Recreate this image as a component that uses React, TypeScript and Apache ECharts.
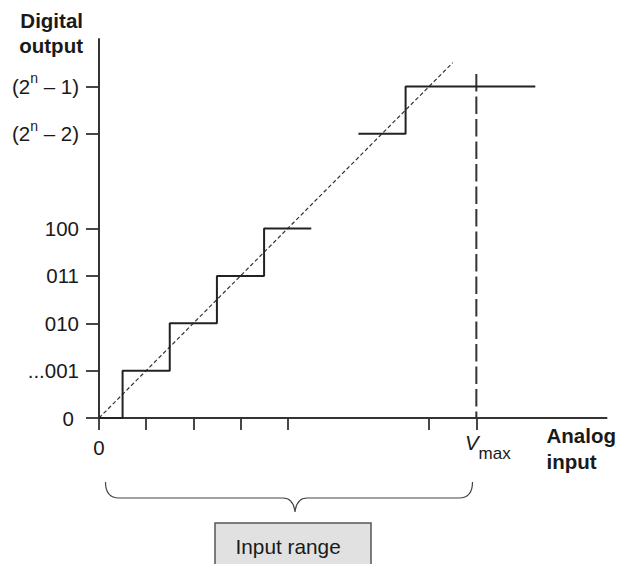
import React, { useEffect, useRef } from "react";
import * as echarts from "echarts";

// ---- data ----
const xTickValues = [0, 1, 2, 3, 4, 7, 8];
const xLabelValues = [0, 8];
const yTickValues = [0, 1, 2, 3, 4, 6, 7];
const yTickLabels: Record<number, string> = {
  0: "{z|0}",
  1: "...001",
  2: "010",
  3: "011",
  4: "100",
  6: "(2{sup|n} – 2)",
  7: "(2{sup|n} – 1)",
};
const lowerStairs = [[0, 0], [0.5, 1], [1.5, 2], [2.5, 3], [3.5, 4], [4.5, 4]];
const upperStairs = [[5.5, 6], [6.5, 7], [9.25, 7]];
const idealLine = [[0, 0], [7.5, 7.5]];
const vmaxLine = [[8, 7.26], [8, 0]];

const FONT = "'Liberation Sans', Arial, Helvetica, sans-serif";
const TEXT = "#1a1a1a";
const LINE = "#333333";

const braceD =
  "M105.5,482 C105.5,492 109,498 119,498 L283,498 C290,498 294,503 295,512 C296,503 300,498 307,498 L459,498 C469,498 472.5,492 472.5,482";
echarts.graphic.registerShape("brace", echarts.graphic.extendPath(braceD, {}) as any);

export default function App() {
  const ref = useRef<HTMLDivElement>(null);
  useEffect(() => {
    if (!ref.current) return;
    const chart = echarts.init(ref.current, null, { renderer: "svg" });
    chart.setOption({
      animation: false,
      textStyle: { fontFamily: FONT },
      grid: { left: 99, right: 11, top: 39, bottom: 146, containLabel: false },
      xAxis: {
        type: "value",
        min: 0,
        max: 10.76,
        name: "Analog\ninput",
        nameLocation: "end",
        nameGap: -60,
        nameTextStyle: {
          fontFamily: FONT,
          fontWeight: "bold",
          fontSize: 20.5,
          lineHeight: 26,
          color: TEXT,
          align: "left",
          verticalAlign: "top",
          padding: [4, 0, 0, 0],
        },
        axisLine: { show: true, lineStyle: { color: LINE, width: 2 } },
        axisTick: { show: true, customValues: xTickValues, length: 12, lineStyle: { color: LINE, width: 1.8 } },
        axisLabel: {
          customValues: xLabelValues,
          margin: 19,
          color: TEXT,
          fontFamily: FONT,
          fontSize: 20.5,
          formatter: (v: number) => (v === 0 ? "{z|0}" : "{v|V}{s|max}"),
          rich: {
            z: { fontSize: 20.5, lineHeight: 20, padding: [5, 0, 5, 0], color: TEXT, fontFamily: FONT },
            v: { fontSize: 20.5, fontStyle: "italic", lineHeight: 20, padding: [0, 0, 10, 23], color: TEXT, fontFamily: FONT },
            s: { fontSize: 17, lineHeight: 17, padding: [13, 0, 0, 0], color: TEXT, fontFamily: FONT },
          },
        },
        splitLine: { show: false },
      },
      yAxis: {
        type: "value",
        min: 0,
        max: 8,
        name: "Digital\noutput",
        nameLocation: "end",
        nameGap: 6,
        nameTextStyle: {
          fontFamily: FONT,
          fontWeight: "bold",
          fontSize: 20.5,
          lineHeight: 24.5,
          color: TEXT,
          align: "right",
          verticalAlign: "middle",
          padding: [0, 16, 0, 0],
        },
        axisLine: { show: true, lineStyle: { color: LINE, width: 2 } },
        axisTick: { show: true, customValues: yTickValues, length: 13, lineStyle: { color: LINE, width: 1.8 } },
        axisLabel: {
          customValues: yTickValues,
          margin: 20,
          color: TEXT,
          fontFamily: FONT,
          fontSize: 20.5,
          formatter: (v: number) => yTickLabels[v] ?? "",
          rich: {
            z: { fontSize: 20.5, padding: [0, 5, 0, 0], color: TEXT, fontFamily: FONT },
            sup: { fontSize: 14, lineHeight: 14, padding: [0, 0, 16, 0], color: TEXT, fontFamily: FONT },
          },
        },
        splitLine: { show: false },
      },
      series: [
        {
          type: "line",
          data: idealLine,
          symbol: "none",
          silent: true,
          lineStyle: { color: LINE, width: 1.2, type: [4, 2.5] },
          z: 2,
        },
        {
          type: "line",
          data: vmaxLine,
          symbol: "none",
          silent: true,
          lineStyle: { color: LINE, width: 2, type: [17.5, 5] },
          z: 2,
        },
        {
          type: "line",
          data: lowerStairs,
          step: "end",
          symbol: "none",
          silent: true,
          lineStyle: { color: "#222", width: 2 },
          z: 3,
        },
        {
          type: "line",
          data: upperStairs,
          step: "end",
          symbol: "none",
          silent: true,
          lineStyle: { color: "#222", width: 2 },
          z: 3,
        },
      ],
      graphic: [
        {
          type: "brace",
          x: 0,
          y: 0,
          silent: true,
          style: { stroke: "#444", lineWidth: 1.2, fill: null },
        },
        {
          type: "rect",
          silent: true,
          shape: { x: 215, y: 523, width: 156, height: 60 },
          style: { fill: "#e1e1e1", stroke: "#555", lineWidth: 1.5 },
        },
        {
          type: "text",
          silent: true,
          x: 235.5,
          y: 546.5,
          style: {
            text: "Input range",
            fontFamily: FONT,
            fontSize: 20.8,
            fill: TEXT,
            align: "left",
            verticalAlign: "middle",
          },
        },
      ],
    });
    return () => chart.dispose();
  }, []);
  return (
    <div
      ref={ref}
      style={{ position: "fixed", left: 0, top: 0, width: 619, height: 564, background: "#fff" }}
    />
  );
}
